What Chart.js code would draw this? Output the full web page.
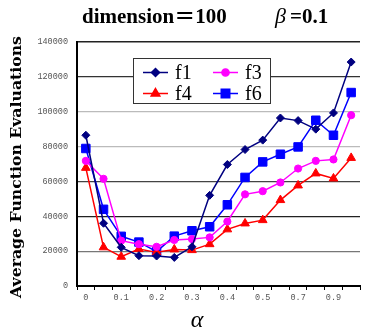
<!DOCTYPE html>
<html>
<head>
<meta charset="utf-8">
<script src="https://cdn.jsdelivr.net/npm/chart.js@4/dist/chart.umd.min.js"></script>
<style>
html,body{margin:0;padding:0;background:#fff;overflow:hidden;}
#wrap{position:relative;width:365px;height:334px;overflow:hidden;}
canvas{display:block;}
</style>
</head>
<body>
<div id="wrap"><canvas id="c" width="367" height="334"></canvas></div>
<script>
const categories = ['0','0.05','0.1','0.15','0.2','0.25','0.3','0.35','0.4','0.45','0.5','0.6','0.7','0.8','0.9','1'];
const f1 = [86500, 36000, 22200, 17400, 17200, 16400, 22500, 52000, 69700, 78300, 83700, 96400, 94900, 90000, 99300, 128500];
const f3 = [71800, 61500, 26000, 24000, 22500, 26400, 26900, 27900, 37000, 52600, 54400, 59400, 67400, 71800, 72600, 98000];
const f4 = [67800, 22200, 16800, 21200, 19300, 21000, 20600, 24000, 32500, 35900, 37800, 49300, 57700, 64600, 61700, 73500];
const f6 = [78900, 44000, 28500, 25200, 19700, 28600, 31700, 34000, 46600, 62300, 71200, 75600, 79800, 95100, 86500, 111000];
const yTicks = [0, 20000, 40000, 60000, 80000, 100000, 120000, 140000];
const seriesNames = ['f1', 'f3', 'f4', 'f6'];

const gridColors = {0:'#000', 20000:'#777', 40000:'#222', 60000:'#444', 80000:'#bbb', 100000:'#bbb', 120000:'#333', 140000:'#222'};

const mk = (label, data, color, style, r) => ({
  label, data, borderColor: color, backgroundColor: color,
  pointStyle: style, pointRadius: r, pointHoverRadius: r,
  pointBorderWidth: 1, borderWidth: 1.5, tension: 0
});

const datasets = [
  mk(seriesNames[0], f1, '#000080', 'rectRot', 4),
  mk(seriesNames[1], f3, '#FF00FF', 'circle', 3.6),
  mk(seriesNames[2], f4, '#FF0000', 'triangle', 5),
  mk(seriesNames[3], f6, '#0000FF', 'rect', 6)
];

const decor = {
  id: 'decor',
  afterDraw(chart) {
    const ctx = chart.ctx;
    ctx.save();
    // title
    ctx.fillStyle = '#000';
    ctx.textBaseline = 'alphabetic';
    ctx.textAlign = 'left';
    ctx.font = 'bold 21px "Liberation Serif", "Noto Sans CJK SC", serif';
    ctx.fillText('dimension＝100', 82, 23);
    ctx.font = 'italic 22px "Liberation Serif", serif';
    ctx.fillText('β', 275, 23);
    ctx.font = 'bold 21px "Liberation Serif", serif';
    ctx.fillText('=0.1', 290, 23);
    // y title (fit to ~262px like the reference)
    ctx.save();
    ctx.translate(17, 167);
    ctx.rotate(-Math.PI / 2);
    ctx.textAlign = 'center';
    ctx.textBaseline = 'middle';
    const yt = 'Average Function Evaluations';
    let fs = 15;
    ctx.font = 'bold ' + fs + 'px "DejaVu Serif", serif';
    const w = ctx.measureText(yt).width;
    fs = Math.min(16, fs * 262 / w);
    ctx.font = 'bold ' + fs.toFixed(2) + 'px "DejaVu Serif", serif';
    ctx.fillText(yt, 0, 0);
    ctx.restore();
    // x title
    ctx.textAlign = 'center';
    ctx.textBaseline = 'middle';
    ctx.font = 'italic 24px "Liberation Serif", serif';
    ctx.fillText('α', 197, 321);
    // legend
    ctx.fillStyle = '#fff';
    ctx.fillRect(133, 58, 138, 46);
    ctx.strokeStyle = '#333';
    ctx.lineWidth = 1;
    ctx.strokeRect(133.5, 58.5, 137, 45);
    const pos = [[143, 72.5], [213, 72.5], [143, 93.5], [213, 93.5]];
    [0, 1, 2, 3].forEach((di, i) => {
      const ds = chart.data.datasets[di];
      const [x, y] = pos[i];
      ctx.strokeStyle = ds.borderColor;
      ctx.lineWidth = 1.5;
      ctx.beginPath();
      ctx.moveTo(x, y); ctx.lineTo(x + 25, y); ctx.stroke();
      ctx.fillStyle = ds.backgroundColor;
      Chart.helpers.drawPoint(ctx, {pointStyle: ds.pointStyle, radius: ds.pointRadius, rotation: 0, borderWidth: 1}, x + 12.5, y);
      ctx.fillStyle = '#000';
      ctx.textAlign = 'left';
      ctx.textBaseline = 'middle';
      ctx.font = '20px "Liberation Serif", serif';
      ctx.fillText(ds.label, x + 32, y + 1);
    });
    ctx.restore();
  }
};

new Chart(document.getElementById('c'), {
  type: 'line',
  data: { labels: categories, datasets },
  options: {
    responsive: false,
    animation: false,
    devicePixelRatio: 1,
    layout: { padding: { top: 42, left: 0, right: 0, bottom: 0 } },
    plugins: { legend: { display: false }, title: { display: false }, tooltip: { enabled: false } },
    scales: {
      x: {
        offset: true,
        afterFit(s) { s.height = 48; },
        grid: { display: true, drawOnChartArea: false, drawTicks: true, tickLength: 4, color: '#000', offset: true },
        border: { display: true, color: '#000', width: 2 },
        ticks: {
          autoSkip: false, maxRotation: 0, padding: 3, color: '#555',
          font: { family: '"Liberation Mono", monospace', size: 8.5 },
          callback(v, i) { return i % 2 === 0 ? categories[i] : ''; }
        }
      },
      y: {
        min: 0, max: 140000,
        afterFit(s) { s.width = 77; },
        afterBuildTicks(s) { s.ticks = yTicks.map(v => ({ value: v })); },
        grid: {
          drawTicks: false,
          color: c => gridColors[c.tick.value] || '#888',
          lineWidth: c => (c.tick.value === 140000 ? 1.6 : 1.2)
        },
        border: { display: true, color: '#000', width: 2 },
        ticks: {
          padding: 9, color: '#555',
          font: { family: '"Liberation Mono", monospace', size: 8.5 },
          callback(v) { return String(v); }
        }
      }
    }
  },
  plugins: [decor]
});
</script>
</body>
</html>
